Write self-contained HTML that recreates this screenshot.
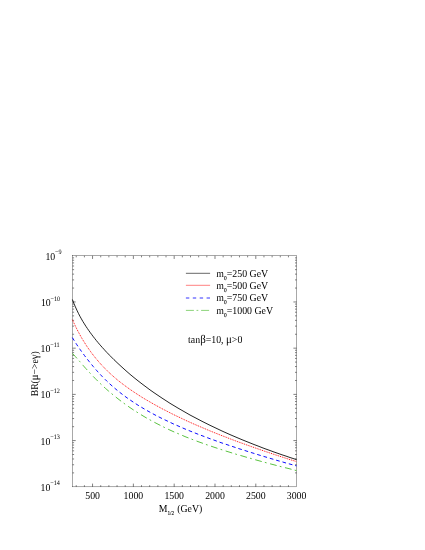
<!DOCTYPE html>
<html><head><meta charset="utf-8"><title>plot</title>
<style>
html,body{margin:0;padding:0;background:#fff;}
svg{display:block;will-change:transform;}
text{font-family:"Liberation Serif",serif;fill:#000;text-rendering:geometricPrecision;}
</style></head><body>
<svg width="425" height="550" viewBox="0 0 425 550">
<rect x="72.5" y="255.75" width="224.1" height="231.1" fill="none" stroke="#000" stroke-width="0.34"/>
<path d="M76.24 486.8v-1.6M76.24 255.75v1.6M84.40 486.8v-1.6M84.40 255.75v1.6M92.56 486.8v-3.2M92.56 255.75v3.2M100.72 486.8v-1.6M100.72 255.75v1.6M108.88 486.8v-1.6M108.88 255.75v1.6M117.05 486.8v-1.6M117.05 255.75v1.6M125.21 486.8v-1.6M125.21 255.75v1.6M133.37 486.8v-3.2M133.37 255.75v3.2M141.53 486.8v-1.6M141.53 255.75v1.6M149.69 486.8v-1.6M149.69 255.75v1.6M157.86 486.8v-1.6M157.86 255.75v1.6M166.02 486.8v-1.6M166.02 255.75v1.6M174.18 486.8v-3.2M174.18 255.75v3.2M182.34 486.8v-1.6M182.34 255.75v1.6M190.50 486.8v-1.6M190.50 255.75v1.6M198.67 486.8v-1.6M198.67 255.75v1.6M206.83 486.8v-1.6M206.83 255.75v1.6M214.99 486.8v-3.2M214.99 255.75v3.2M223.15 486.8v-1.6M223.15 255.75v1.6M231.31 486.8v-1.6M231.31 255.75v1.6M239.48 486.8v-1.6M239.48 255.75v1.6M247.64 486.8v-1.6M247.64 255.75v1.6M255.80 486.8v-3.2M255.80 255.75v3.2M263.96 486.8v-1.6M263.96 255.75v1.6M272.12 486.8v-1.6M272.12 255.75v1.6M280.29 486.8v-1.6M280.29 255.75v1.6M288.45 486.8v-1.6M288.45 255.75v1.6M72.5 288.05h1.6M296.6 288.05h-1.6M72.5 279.91h1.6M296.6 279.91h-1.6M72.5 274.14h1.6M296.6 274.14h-1.6M72.5 269.66h1.6M296.6 269.66h-1.6M72.5 266.00h1.6M296.6 266.00h-1.6M72.5 262.91h1.6M296.6 262.91h-1.6M72.5 260.23h1.6M296.6 260.23h-1.6M72.5 257.86h1.6M296.6 257.86h-1.6M72.5 301.96h3.2M296.6 301.96h-3.2M72.5 334.26h1.6M296.6 334.26h-1.6M72.5 326.12h1.6M296.6 326.12h-1.6M72.5 320.35h1.6M296.6 320.35h-1.6M72.5 315.87h1.6M296.6 315.87h-1.6M72.5 312.21h1.6M296.6 312.21h-1.6M72.5 309.12h1.6M296.6 309.12h-1.6M72.5 306.44h1.6M296.6 306.44h-1.6M72.5 304.07h1.6M296.6 304.07h-1.6M72.5 348.17h3.2M296.6 348.17h-3.2M72.5 380.47h1.6M296.6 380.47h-1.6M72.5 372.33h1.6M296.6 372.33h-1.6M72.5 366.56h1.6M296.6 366.56h-1.6M72.5 362.08h1.6M296.6 362.08h-1.6M72.5 358.42h1.6M296.6 358.42h-1.6M72.5 355.33h1.6M296.6 355.33h-1.6M72.5 352.65h1.6M296.6 352.65h-1.6M72.5 350.28h1.6M296.6 350.28h-1.6M72.5 394.38h3.2M296.6 394.38h-3.2M72.5 426.68h1.6M296.6 426.68h-1.6M72.5 418.54h1.6M296.6 418.54h-1.6M72.5 412.77h1.6M296.6 412.77h-1.6M72.5 408.29h1.6M296.6 408.29h-1.6M72.5 404.63h1.6M296.6 404.63h-1.6M72.5 401.54h1.6M296.6 401.54h-1.6M72.5 398.86h1.6M296.6 398.86h-1.6M72.5 396.49h1.6M296.6 396.49h-1.6M72.5 440.59h3.2M296.6 440.59h-3.2M72.5 472.89h1.6M296.6 472.89h-1.6M72.5 464.75h1.6M296.6 464.75h-1.6M72.5 458.98h1.6M296.6 458.98h-1.6M72.5 454.50h1.6M296.6 454.50h-1.6M72.5 450.84h1.6M296.6 450.84h-1.6M72.5 447.75h1.6M296.6 447.75h-1.6M72.5 445.07h1.6M296.6 445.07h-1.6M72.5 442.70h1.6M296.6 442.70h-1.6" fill="none" stroke="#000" stroke-width="0.5"/>
<g fill="none" stroke-linecap="butt" stroke-linejoin="round">
<path d="M72.4 299.5 L73.9 303.4 L75.4 306.9 L76.9 310.2 L78.4 313.3 L79.9 316.2 L81.4 318.9 L82.9 321.5 L84.4 323.9 L85.9 326.3 L87.4 328.5 L88.9 330.7 L90.4 332.8 L91.9 334.8 L93.4 336.8 L94.9 338.7 L96.4 340.6 L97.9 342.4 L99.4 344.2 L100.9 345.9 L102.4 347.6 L103.9 349.2 L105.4 350.9 L106.9 352.5 L108.4 354.0 L109.9 355.6 L110.0 355.7 L114.0 359.7 L118.0 363.5 L122.0 367.2 L126.0 370.8 L130.0 374.3 L134.0 377.6 L138.0 380.8 L142.0 383.9 L146.0 386.9 L150.0 389.9 L154.0 392.7 L158.0 395.4 L162.0 398.1 L166.0 400.7 L170.0 403.3 L174.0 405.7 L178.0 408.1 L182.0 410.4 L186.0 412.7 L190.0 415.0 L194.0 417.1 L198.0 419.2 L202.0 421.3 L206.0 423.3 L210.0 425.3 L214.0 427.2 L218.0 429.1 L222.0 431.0 L226.0 432.8 L230.0 434.6 L234.0 436.3 L238.0 438.0 L242.0 439.7 L246.0 441.3 L250.0 442.9 L254.0 444.5 L258.0 446.0 L262.0 447.6 L266.0 449.1 L270.0 450.5 L274.0 452.0 L278.0 453.4 L282.0 454.8 L286.0 456.1 L290.0 457.5 L294.0 458.8 L296.5 459.6" stroke="#000" stroke-width="0.86"/>
<path d="M72.4 319.7 L73.9 323.0 L75.4 326.1 L76.9 329.2 L78.4 332.0 L79.9 334.8 L81.4 337.5 L82.9 340.0 L84.4 342.4 L85.9 344.8 L87.4 347.1 L88.9 349.2 L90.4 351.3 L91.9 353.4 L93.4 355.3 L94.9 357.2 L96.4 359.1 L97.9 360.8 L99.4 362.6 L100.9 364.2 L102.4 365.9 L103.9 367.4 L105.4 369.0 L106.9 370.5 L108.4 371.9 L109.9 373.3 L110.0 373.4 L114.0 377.0 L118.0 380.4 L122.0 383.5 L126.0 386.5 L130.0 389.4 L134.0 392.1 L138.0 394.7 L142.0 397.3 L146.0 399.7 L150.0 402.0 L154.0 404.3 L158.0 406.5 L162.0 408.7 L166.0 410.7 L170.0 412.8 L174.0 414.8 L178.0 416.7 L182.0 418.6 L186.0 420.5 L190.0 422.3 L194.0 424.1 L198.0 425.8 L202.0 427.5 L206.0 429.2 L210.0 430.9 L214.0 432.5 L218.0 434.1 L222.0 435.7 L226.0 437.2 L230.0 438.8 L234.0 440.3 L238.0 441.8 L242.0 443.2 L246.0 444.7 L250.0 446.1 L254.0 447.5 L258.0 448.9 L262.0 450.3 L266.0 451.7 L270.0 453.0 L274.0 454.4 L278.0 455.7 L282.0 457.0 L286.0 458.3 L290.0 459.6 L294.0 460.8 L296.5 461.6" stroke="#f00" stroke-width="0.92" stroke-dasharray="1.0 0.9"/>
<path d="M72.4 337.6 L73.9 340.1 L75.4 342.5 L76.9 344.8 L78.4 347.0 L79.9 349.2 L81.4 351.3 L82.9 353.3 L84.4 355.4 L85.9 357.4 L87.4 359.3 L88.9 361.2 L90.4 363.1 L91.9 364.9 L93.4 366.7 L94.9 368.5 L96.4 370.2 L97.9 371.9 L99.4 373.5 L100.9 375.1 L102.4 376.7 L103.9 378.2 L105.4 379.7 L106.9 381.2 L108.4 382.6 L109.9 384.0 L110.0 384.1 L114.0 387.6 L118.0 391.0 L122.0 394.1 L126.0 397.1 L130.0 399.9 L134.0 402.6 L138.0 405.2 L142.0 407.6 L146.0 410.0 L150.0 412.2 L154.0 414.4 L158.0 416.5 L162.0 418.5 L166.0 420.4 L170.0 422.3 L174.0 424.2 L178.0 425.9 L182.0 427.7 L186.0 429.4 L190.0 431.0 L194.0 432.6 L198.0 434.2 L202.0 435.7 L206.0 437.2 L210.0 438.7 L214.0 440.1 L218.0 441.6 L222.0 443.0 L226.0 444.3 L230.0 445.7 L234.0 447.0 L238.0 448.4 L242.0 449.6 L246.0 450.9 L250.0 452.2 L254.0 453.4 L258.0 454.7 L262.0 455.9 L266.0 457.1 L270.0 458.3 L274.0 459.5 L278.0 460.7 L282.0 461.8 L286.0 463.0 L290.0 464.1 L294.0 465.2 L296.5 465.9" stroke="#0000ff" stroke-width="0.95" stroke-dasharray="3.7 2.9"/>
<path d="M72.4 353.4 L73.9 355.0 L75.4 356.6 L76.9 358.3 L78.4 360.0 L79.9 361.7 L81.4 363.5 L82.9 365.2 L84.4 366.9 L85.9 368.6 L87.4 370.2 L88.9 371.9 L90.4 373.5 L91.9 375.1 L93.4 376.6 L94.9 378.2 L96.4 379.7 L97.9 381.2 L99.4 382.7 L100.9 384.1 L102.4 385.5 L103.9 386.9 L105.4 388.3 L106.9 389.6 L108.4 390.9 L109.9 392.2 L110.0 392.3 L114.0 395.6 L118.0 398.8 L122.0 401.9 L126.0 404.8 L130.0 407.6 L134.0 410.3 L138.0 412.8 L142.0 415.3 L146.0 417.7 L150.0 419.9 L154.0 422.1 L158.0 424.2 L162.0 426.2 L166.0 428.2 L170.0 430.1 L174.0 431.9 L178.0 433.6 L182.0 435.3 L186.0 437.0 L190.0 438.5 L194.0 440.1 L198.0 441.6 L202.0 443.0 L206.0 444.5 L210.0 445.8 L214.0 447.2 L218.0 448.5 L222.0 449.8 L226.0 451.1 L230.0 452.3 L234.0 453.6 L238.0 454.8 L242.0 455.9 L246.0 457.1 L250.0 458.2 L254.0 459.4 L258.0 460.5 L262.0 461.6 L266.0 462.7 L270.0 463.8 L274.0 464.8 L278.0 465.9 L282.0 466.9 L286.0 467.9 L290.0 468.9 L294.0 470.0 L296.5 470.6" stroke="#5ac240" stroke-width="1.0" stroke-dasharray="6.8 3.2 1.8 3.6"/>
<path d="M185.9 273.3H210.1" stroke="#000" stroke-width="0.6"/>
<path d="M185.9 285.3H210.1" stroke="#f00" stroke-width="0.5"/>
<path d="M185.9 298H210.1" stroke="#00f" stroke-width="0.8" stroke-dasharray="3.4 3.5"/>
<path d="M185.9 310.4H210.1" stroke="#5ac240" stroke-width="0.7" stroke-dasharray="8 2.6 1.8 2.8"/>
</g>
<text transform="translate(92.6 498.7) scale(1 1.08)" font-size="9.8" text-anchor="middle">500</text>
<text transform="translate(133.4 498.7) scale(1 1.08)" font-size="9.8" text-anchor="middle">1000</text>
<text transform="translate(174.2 498.7) scale(1 1.08)" font-size="9.8" text-anchor="middle">1500</text>
<text transform="translate(215.0 498.7) scale(1 1.08)" font-size="9.8" text-anchor="middle">2000</text>
<text transform="translate(255.8 498.7) scale(1 1.08)" font-size="9.8" text-anchor="middle">2500</text>
<text transform="translate(296.6 498.7) scale(1 1.08)" font-size="9.8" text-anchor="middle">3000</text>
<text transform="translate(45.4 259.6) scale(1 1.08)" font-size="9.8">10<tspan dy="-4.9" dx="-0.2" font-size="6.2">−9</tspan></text>
<text transform="translate(40.9 305.9) scale(1 1.08)" font-size="9.8">10<tspan dy="-4.9" dx="-0.2" font-size="6.2">−10</tspan></text>
<text transform="translate(40.6 352.1) scale(1 1.08)" font-size="9.8">10<tspan dy="-4.9" dx="-0.2" font-size="6.2">−11</tspan></text>
<text transform="translate(40.6 398.3) scale(1 1.08)" font-size="9.8">10<tspan dy="-4.9" dx="-0.2" font-size="6.2">−12</tspan></text>
<text transform="translate(40.6 444.5) scale(1 1.08)" font-size="9.8">10<tspan dy="-4.9" dx="-0.2" font-size="6.2">−13</tspan></text>
<text transform="translate(40.6 490.7) scale(1 1.08)" font-size="9.8">10<tspan dy="-4.9" dx="-0.2" font-size="6.2">−14</tspan></text>
<text transform="translate(216.3 276.5) scale(1 1.08)" font-size="9.85">m<tspan dy="2.8" font-size="5.4" stroke="#000" stroke-width="0.12">0</tspan><tspan dy="-2.8" dx="0.1">=250 GeV</tspan></text>
<text transform="translate(216.3 288.8) scale(1 1.08)" font-size="9.85">m<tspan dy="2.8" font-size="5.4" stroke="#000" stroke-width="0.12">0</tspan><tspan dy="-2.8" dx="0.1">=500 GeV</tspan></text>
<text transform="translate(216.3 301.2) scale(1 1.08)" font-size="9.85">m<tspan dy="2.8" font-size="5.4" stroke="#000" stroke-width="0.12">0</tspan><tspan dy="-2.8" dx="0.1">=750 GeV</tspan></text>
<text transform="translate(216.3 313.8) scale(1 1.08)" font-size="9.85">m<tspan dy="2.8" font-size="5.4" stroke="#000" stroke-width="0.12">0</tspan><tspan dy="-2.8" dx="0.1">=1000 GeV</tspan></text>
<text transform="translate(188.1 342.9) scale(1 1.08)" font-size="9.85">tan<tspan font-size="10.9">β</tspan>=10, <tspan font-size="10.9">μ</tspan>&gt;0</text>
<text transform="translate(158.7 511.75) scale(1 1.08)" font-size="9.8">M<tspan dy="2.8" font-size="5.4" stroke="#000" stroke-width="0.08">1/2</tspan><tspan dy="-2.8" dx="0.5"> (GeV)</tspan></text>
<text transform="translate(37.8 396.3) rotate(-90) scale(1 1.08)" font-size="9.7">BR(<tspan font-size="10.7">μ</tspan>−&gt;e<tspan font-size="10.7">γ</tspan>)</text>
</svg>
</body></html>
